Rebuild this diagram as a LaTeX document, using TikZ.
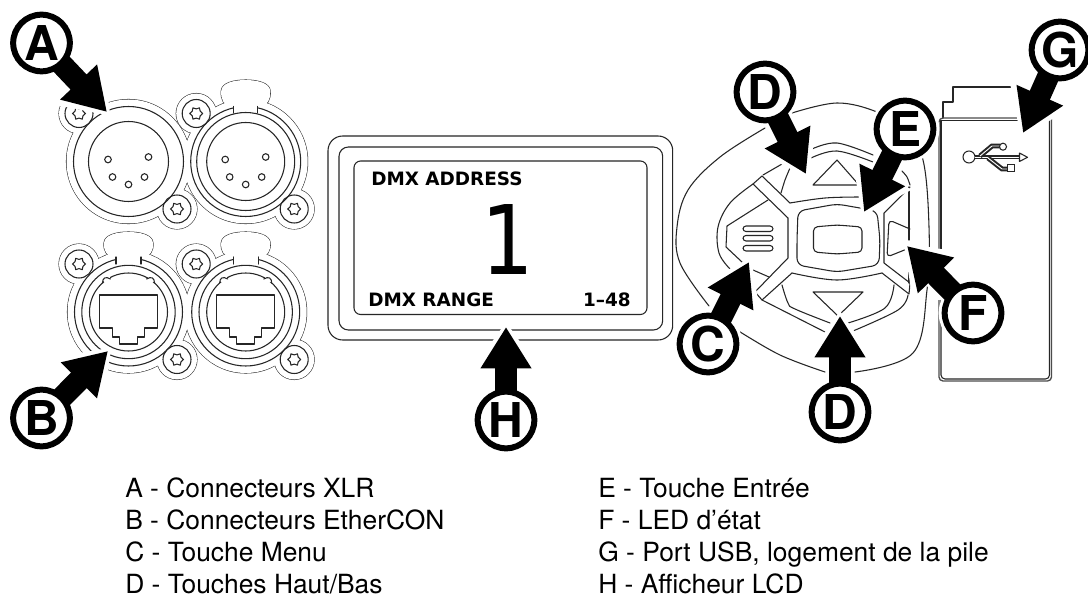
\documentclass[tikz,border=0pt]{standalone}
\usepackage{fontspec}
\setmainfont{TeX Gyre Heros}
\newfontfamily\lcdfont{DejaVu Sans}[BoldFont={DejaVu Sans Bold}]
\usetikzlibrary{arrows.meta,calc}
\tikzset{
  x=0.75pt,y=-0.75pt,
  thin line/.style={line width=0.8pt,black!85,line join=round,line cap=round},
  callout/.style={circle,draw=black,fill=white,line width=4.5pt,minimum size=42.5pt,inner sep=0pt,
    font=\fontsize{36}{36}\selectfont\bfseries,text=black,
    preaction={draw=white,line width=9pt}},
  pointer halo/.style={draw=white,line width=21pt,shorten >=-4pt,
    -{Triangle[length=35pt,width=47pt]}},
  pointer/.style={draw=black,fill=black,line width=16.5pt,shorten <=-3pt,
    -{Triangle[length=31pt,width=36pt]}},
  legend/.style={anchor=base west,inner sep=0pt,font=\fontsize{19.8}{19.8}\selectfont,text=black},
  lcdtext/.style={inner sep=0pt,font=\lcdfont\bfseries\fontsize{13.8}{14}\selectfont,text=black},
}
\newcommand{\starscrew}[1]{%
  \draw[thin line] (#1) circle[radius=14];
  \draw[thin line] ($(#1)+(0:6.5)$)
    \foreach \k in {1,...,11}{ -- ($(#1)+(\k*30:{mod(\k,2)==0?6.5:4.6})$)} -- cycle;
}
\newcommand{\flangeoutline}[3]{%
  \draw[thin line] (#1,#2) circle[radius=#3];
  \draw[thin line] ($(#1,#2)+(-49.5,-48)$) circle[radius=20];
  \draw[thin line] ($(#1,#2)+(48.5,47.5)$) circle[radius=20];
}
\newcommand{\flangefill}[3]{%
  \fill[white] (#1,#2) circle[radius=#3];
  \fill[white] ($(#1,#2)+(-49.5,-48)$) circle[radius=20];
  \fill[white] ($(#1,#2)+(48.5,47.5)$) circle[radius=20];
}
\newcommand{\screws}[2]{%
  \coordinate (sca) at ($(#1,#2)+(-49.5,-48)$);
  \coordinate (scb) at ($(#1,#2)+(48.5,47.5)$);
  \starscrew{sca}
  \starscrew{scb}
}
\newcommand{\pins}[2]{%
  \foreach \dx/\dy in {-20.5/3.5,20/1,-16/21,16/21,0/28.5}
    \draw[thin line] ($(#1,#2)+(\dx,\dy)$) circle[radius=3.3];
}
\newcommand{\tabpath}[3]{(#1-14,#3) .. controls (#1-22,#3-2) and (#1-25,#3-7) .. (#1-24.5,#2+11) .. controls (#1-24,#2+3) and (#1-12,#2) .. (#1,#2) .. controls (#1+12,#2) and (#1+24,#2+3) .. (#1+24.5,#2+11) .. controls (#1+25,#3-7) and (#1+22,#3-2) .. (#1+14,#3) -- cycle}
\newcommand{\tabout}[3]{\draw[thin line] \tabpath{#1}{#2}{#3};}
\newcommand{\tabfill}[3]{\fill[white] \tabpath{#1}{#2}{#3};}
\newcommand{\ethercon}[1]{%
  \draw[thin line] (#1,312) circle[radius=54];
  \fill[white] (#1-12.5,250) rectangle (#1+12.5,266);
  \draw[thin line] (#1-12.5,257) -- (#1-12.5,264) (#1+12.5,257) -- (#1+12.5,264);
  \draw[thin line] (#1,312) circle[radius=46.7];
  \draw[thin line] (#1,312) circle[radius=39];
  \fill[white] (#1-25,276) rectangle (#1-19,282);
  \fill[white] (#1+19,276) rectangle (#1+25,282);
  \draw[thin line] (#1-26,283) .. controls (#1-26,278) and (#1-23,276) .. (#1-18,279) (#1+26,283) .. controls (#1+26,278) and (#1+23,276) .. (#1+18,279);
  \draw[thin line] (#1-29,295) -- (#1+29,295) -- (#1+29,328) -- (#1+16,328) -- (#1+16,337) -- (#1+9,337) -- (#1+9,344) -- (#1-9,344) -- (#1-9,337) -- (#1-16,337) -- (#1-16,328) -- (#1-29,328) -- cycle;
}
\begin{document}
\begin{tikzpicture}
\useasboundingbox (0,0) rectangle (1088,595);
\fill[white] (0,0) rectangle (1088,595);

% ---- connector outlines (union of flange, ears, tabs)
\flangeoutline{128.5}{161.5}{62}
\flangeoutline{245.7}{161.5}{62}
\tabout{245.7}{80}{107}
\flangeoutline{128.5}{312}{61}
\flangeoutline{245.7}{312}{61}
\tabout{128.5}{232}{258}
\tabout{245.7}{232}{258}
\flangefill{128.5}{161.5}{62}
\flangefill{245.7}{161.5}{62}
\tabfill{245.7}{80}{107}
\flangefill{128.5}{312}{61}
\flangefill{245.7}{312}{61}
\tabfill{128.5}{232}{258}
\tabfill{245.7}{232}{258}
\screws{128.5}{161.5}
\screws{245.7}{161.5}
\screws{128.5}{312}
\screws{245.7}{312}
% XLR 1
\draw[thin line] (128.5,161.5) circle[radius=55];
\draw[thin line] (128.5,161.5) circle[radius=40];
\pins{128.5}{156}
% XLR 2
\draw[thin line] (245.7,161.5) circle[radius=55];
\fill[white] (233.7,100) rectangle (257.7,112.5);
\draw[thin line] (233.7,106.5) -- (233.7,113) (257.7,106.5) -- (257.7,113);
\draw[thin line] (245.7,161.5) circle[radius=49];
\draw[thin line] (245.7,161.5) circle[radius=39];
\pins{245.7}{156}
% EtherCON
\ethercon{128.5}
\ethercon{245.7}

% ---- LCD
\draw[thin line,rounded corners=11pt] (328,136) rectangle (672.7,340);
\draw[thin line,rounded corners=7pt] (339,147) rectangle (662.7,330);
\draw[thin line,rounded corners=5pt] (354,161) rectangle (647,314.5);
\node[lcdtext,anchor=base west] (addr) at (371,186) {DMX ADDRESS};
\node[lcdtext,anchor=base west] (range) at (368,306) {DMX RANGE};
\node[lcdtext,anchor=base east] (rval) at (631,306) {1–48};
\node[inner sep=0pt,anchor=base,xscale=.86,transform shape,font=\lcdfont\fontsize{72}{72}\selectfont,text=black] (value) at (507.5,275) {1};

% ---- keypad
\draw[thin line] plot[smooth,tension=.6] coordinates {(765,128)(720,157)(688,190)(677,227)(680,263)(709,306)};
\draw[thin line] plot[smooth,tension=.6] coordinates {(792,113)(837,103)(877,112)(905,130)(923,160)(929,227)(927,290)(913,353)(855,372)};
\draw[thin line] plot[smooth,tension=.6] coordinates {(737,330)(780,355)(825,372)};
\draw[thin line] plot[smooth,tension=.6] coordinates {(812,149)(837,143)(873,155)};
\draw[thin line] plot[smooth,tension=.6] coordinates {(811,158)(837,151)(873,162)};
\draw[thin line] (782,164) -- (763,175);
\draw[thin line] plot[smooth] coordinates {(790,168)(785,180)(781,193)};
% ribs
\draw[thin line] (753,184) -- (762,176) -- (790,203);
\draw[thin line] plot[smooth,tension=.6] coordinates {(790,203)(825,198)(860,197)};
\draw[thin line] (753,184) -- (788,218) -- (788,258) -- (755,292) -- (762,300) -- (792,273);
\draw[thin line] plot[smooth,tension=.6] coordinates {(792,273)(837,280)(882,273)};
\draw[thin line] (882,273) -- (909,294) -- (910,283) -- (884,263) -- (884,213) -- (910,187);
\draw[thin line] (909,187) -- (909,240);
\draw[thin line] (909,270) -- (909,283);
\draw[thin line] plot[smooth] coordinates {(902,171)(907,177)(910,185)};
% left button
\draw[thin line] plot[smooth,tension=.6] coordinates {(753,184)(730,203)(718,227)(719,253)(730,269)};
\draw[thin line] (768,200) -- (727,226) -- (726,247) -- (742,262);
\draw[thin line] (753,270) -- (769,277);
% lower arcs
\draw[thin line] (762,300) -- (825,332);
\draw[thin line] plot[smooth,tension=.6] coordinates {(853,331)(898,310)(908,295)};
\draw[thin line] plot[smooth,tension=.6] coordinates {(782,285)(788,303)(795,309)(830,323)};
\draw[thin line] plot[smooth,tension=.6] coordinates {(848,323)(885,308)(894,285)};
% centre button
\draw[thin line,rounded corners=5pt] (797,240) -- (798,211) -- (837,204) -- (877,211) -- (880,240) -- (879,265) -- (837,272) -- (797,265) -- cycle;
\draw[thin line,rounded corners=3pt] (813.5,227) -- (837,225) -- (862,227) -- (862,252) -- (837,254) -- (813.5,252) -- cycle;
% triangles
\draw[thin line] (813,185) -- (859,185) -- (837,160) -- cycle;
\draw[thin line] (813,292) -- (863,292) -- (838,316) -- cycle;
% menu bars
\foreach \yy in {226,235.5,245.5}
  \draw[thin line,rounded corners=2.2pt] (743,\yy) rectangle (773,\yy+5.5);
% LED button
\draw[thin line,rounded corners=3pt] (910,229) -- (889,220) -- (887,257) -- (907,249);

% ---- USB panel
\draw[thin line] (1017,87) -- (953,87) -- (953,102) -- (943,102) -- (943,118);
\draw[line width=1pt,black!70,rounded corners=3pt] (939,250) -- (939,118) -- (1019,118);
\draw[thin line] (941,250) -- (941,120.5) -- (1019,120.5);
\draw[line width=1pt,black!70,rounded corners=3pt] (939,300) -- (939,381) -- (1051.5,381) -- (1051.5,118);
\draw[thin line,rounded corners=3pt] (941,300) -- (941,379) -- (1049.5,379) -- (1049.5,119);
% USB symbol
\draw[thin line] (969,157) circle[radius=6];
\draw[line width=1.5pt,black!85,double=white,double distance=0.7pt] (975,157) -- (1020,157);
\draw[line width=1.5pt,black!85,double=white,double distance=0.7pt] (980,156) -- (992,146) -- (1000,146);
\draw[line width=1.5pt,black!85,double=white,double distance=0.7pt] (988,158) -- (1002,169) -- (1008,169);
\fill[white,draw=black!85,line width=0.8pt] (1003,146.7) circle[radius=3.5];
\fill[white,draw=black!85,line width=0.8pt] (1007.5,164.5) rectangle (1014.5,171.5);
\fill[white,draw=black!85,line width=0.8pt,line join=round] (1019.5,153) -- (1027.5,157.3) -- (1019.5,161.5) -- cycle;

% ---- legend
\node[legend] (la) at (125,497.5) {A - Connecteurs XLR};
\node[legend] (lb) at (125,529.5) {B - Connecteurs EtherCON};
\node[legend] (lc) at (125,561.5) {C - Touche Menu};
\node[legend] (ld) at (125,593) {D - Touches Haut/Bas};
\node[legend] (le) at (598,497.5) {E - Touche Entrée};
\node[legend] (lf) at (598,529.5) {F - LED d’état};
\node[legend] (lg) at (598,561.5) {G - Port USB, logement de la pile};
\node[legend] (lh) at (598,593) {H - Afficheur LCD};

% ---- callouts
\foreach \nm/\cx/\cy/\tx/\ty in {A/41.5/43/107/112, B/41.5/418/108/351, C/708/344/749/262,
   Dt/765/92/806/174, Db/840/412/840/316, E/905/129/864/212, F/973/313/907/246, G/1060/50/1023/133, H/506/420/506/327}{
  \coordinate (tip\nm) at (\tx,\ty);
  \draw[pointer halo] ($(\cx,\cy)!23pt!(tip\nm)$) -- (tip\nm);
}
\foreach \nm/\lt/\cx/\cy in {A/A/41.5/43, B/B/41.5/418, C/C/708/344, Dt/D/765/92, Db/D/840/412, E/E/905/129, F/F/973/313, G/G/1060/50, H/H/506/420}{
  \node[callout] (\nm) at (\cx,\cy) {\lt};
}
\draw[pointer] (A) -- (tipA);
\draw[pointer] (B) -- (tipB);
\draw[pointer] (C) -- (tipC);
\draw[pointer] (Dt) -- (tipDt);
\draw[pointer] (Db) -- (tipDb);
\draw[pointer] (E) -- (tipE);
\draw[pointer] (F) -- (tipF);
\draw[pointer] (G) -- (tipG);
\draw[pointer] (H) -- (tipH);
\end{tikzpicture}
\end{document}
